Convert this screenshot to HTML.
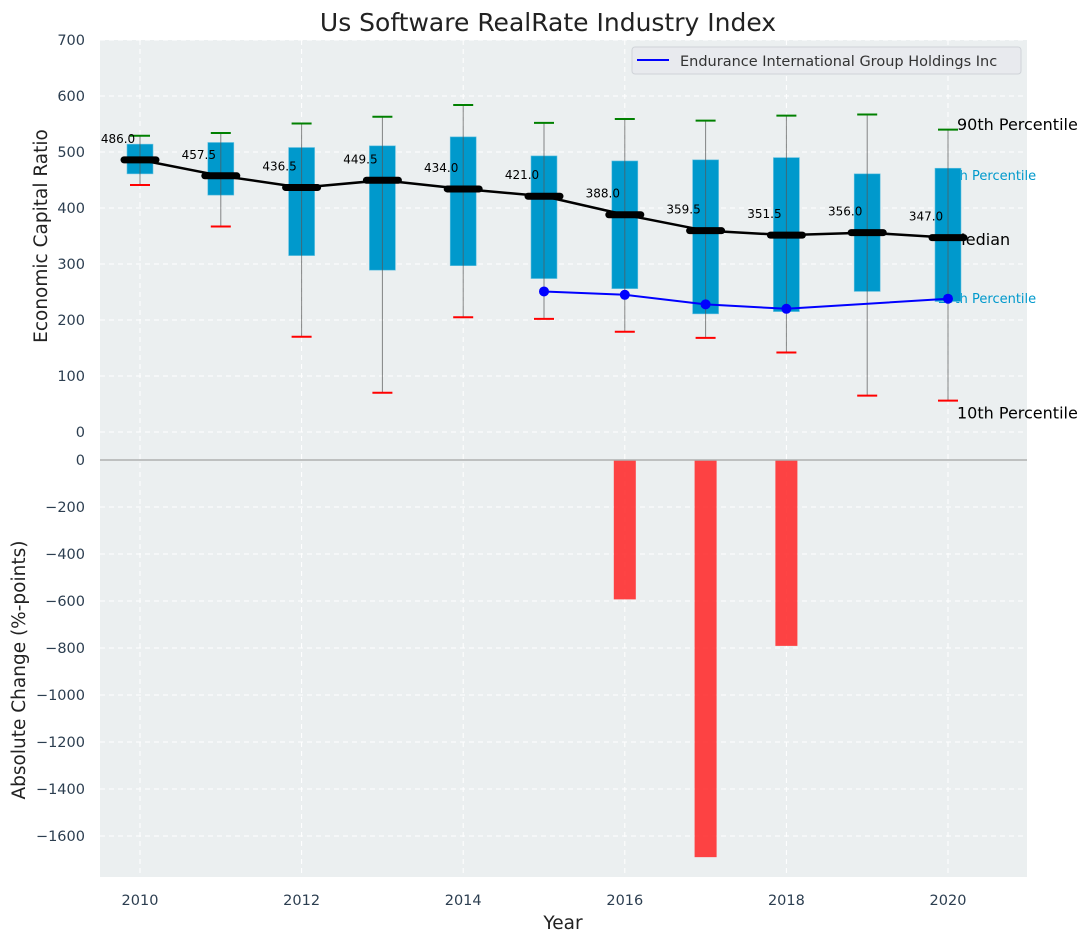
<!DOCTYPE html>
<html><head><meta charset="utf-8"><style>
body{margin:0;background:#fff;}
svg text{font-family:"DejaVu Sans","Liberation Sans",sans-serif;}
</style></head><body>
<svg id="chart" width="1092" height="942" xmlns="http://www.w3.org/2000/svg">
<text x="548" y="31" font-size="25" text-anchor="middle" fill="#222">Us Software RealRate Industry Index</text>
<rect x="100" y="40" width="927" height="420" fill="#ebeff0"/>
<rect x="100" y="448" width="927" height="429" fill="#ebeff0"/>
<g id="grid"></g>
<g id="marks"></g>
<g id="axes"></g>
<g>
<rect x="632" y="47" width="389" height="27" rx="3" fill="#e8eaee" stroke="#cfd3d8"/>
<line x1="637" y1="60" x2="669" y2="60" stroke="#0000ff" stroke-width="2"/>
<text x="680" y="66" font-size="14.5" fill="#333">Endurance International Group Holdings Inc</text>
</g>
<text transform="translate(47,236) rotate(-90)" font-size="18.5" text-anchor="middle" fill="#222">Economic Capital Ratio</text>
<text transform="translate(25,670) rotate(-90)" font-size="18.5" text-anchor="middle" fill="#222">Absolute Change (%-points)</text>
<text x="563" y="929" font-size="18.5" text-anchor="middle" fill="#222">Year</text>
</svg>
<script>
const years=[2010,2011,2012,2013,2014,2015,2016,2017,2018,2019,2020];
const p90=[529,534,551,563,584,552,559,556,565,567,540];
const p75=[514,517,508,511,527,493,484,486,490,461,471];
const medians=[486.0,457.5,436.5,449.5,434.0,421.0,388.0,359.5,351.5,356.0,347.0];
const p25=[461,423,315,289,297,274,256,211,215,251,233];
const p10=[441,367,170,70,205,202,179,168,142,65,56];
const compYears=[2015,2016,2017,2018,2020];
const compValues=[251,245,228,220,238];
const changeYears=[2016,2017,2018];
const changeValues=[-593,-1690,-791];
const topTicks=[0,100,200,300,400,500,600,700];
const botTicks=[0,-200,-400,-600,-800,-1000,-1200,-1400,-1600];
const xTicks=[2010,2012,2014,2016,2018,2020];

const NS="http://www.w3.org/2000/svg";
const xs=y=>140+(y-2010)*80.8;
const yt=v=>432-v*0.56;
const yb=v=>460-v*0.235;
function mk(parent,tag,attrs,txt){const e=document.createElementNS(NS,tag);for(const k in attrs)e.setAttribute(k,attrs[k]);if(txt!==undefined)e.textContent=txt;document.getElementById(parent).appendChild(e);return e;}
topTicks.forEach(t=>{const l=mk('grid','line',{x1:100,x2:1027,y1:yt(t),y2:yt(t),stroke:'#fff','stroke-dasharray':'5,4','stroke-width':1});


const tx=mk('axes','text',{x:85,y:yt(t)+5,'font-size':14.5,'text-anchor':'end',fill:'#2c3e50'},String(t));

});
botTicks.forEach(t=>{const l=mk('grid','line',{x1:100,x2:1027,y1:yb(t),y2:yb(t),stroke:'#fff','stroke-dasharray':'5,4','stroke-width':1});


const tx=mk('axes','text',{x:85,y:yb(t)+5,'font-size':14.5,'text-anchor':'end',fill:'#2c3e50'},String(t).replace('-','\u2212'));

});
xTicks.forEach(t=>{const l=mk('grid','line',{x1:xs(t),x2:xs(t),y1:40,y2:877,stroke:'#fff','stroke-dasharray':'5,4','stroke-width':1});


const tx=mk('axes','text',{x:xs(t),y:905,'font-size':14.5,'text-anchor':'middle',fill:'#2c3e50'},String(t));

});
const zl=mk('axes','line',{x1:100,x2:1027,y1:yb(0),y2:yb(0),stroke:'#b0b0b0','stroke-width':1.5});


// right labels
[['90th Percentile',p90[10]+10,'#000',16,957],['75th Percentile',p75[10]-13,'#0099cc',13,938],['Median',medians[10]-2,'#000',16,952],['25th Percentile',p25[10]+5,'#0099cc',13,938],['10th Percentile',p10[10]-21,'#000',16,957]].forEach(a=>{
const t=mk('marks','text',{x:a[4],y:yt(a[1])+a[3]/2-2,'font-size':a[3],fill:a[2]},a[0]);

});
changeYears.forEach((y,i)=>{const v=changeValues[i];const r=mk('marks','rect',{x:xs(y)-11,y:yb(0),width:22,height:yb(v)-yb(0),fill:'#ff2a2a','fill-opacity':0.88});

});
years.forEach((y,i)=>{const x=xs(y);
const b=mk('marks','rect',{x:x-13,y:yt(p75[i]),width:26,height:yt(p25[i])-yt(p75[i]),fill:'#0099cc',stroke:'#66c2e0','stroke-width':0.6});


const w=mk('marks','line',{x1:x,x2:x,y1:yt(p90[i]),y2:yt(p10[i]),stroke:'#555','stroke-opacity':0.7,'stroke-width':1});


const h=mk('marks','line',{x1:x-10,x2:x+10,y1:yt(p90[i]),y2:yt(p90[i]),stroke:'#008000','stroke-width':2});


const lo=mk('marks','line',{x1:x-10,x2:x+10,y1:yt(p10[i]),y2:yt(p10[i]),stroke:'#ff0000','stroke-width':2});

});
const cp=mk('marks','polyline',{points:compYears.map((y,i)=>xs(y)+','+yt(compValues[i])).join(' '),fill:'none',stroke:'#0000ff','stroke-width':2});


compYears.forEach((y,i)=>{const c=mk('marks','circle',{cx:xs(y),cy:yt(compValues[i]),r:5,fill:'#0000ff'});

});
const ml=mk('marks','polyline',{points:years.map((y,i)=>xs(y)+','+yt(medians[i])).join(' '),fill:'none',stroke:'#000','stroke-width':2.5});


years.forEach((y,i)=>{const x=xs(y);
const m=mk('marks','line',{x1:x-16,x2:x+16,y1:yt(medians[i]),y2:yt(medians[i]),stroke:'#000','stroke-width':7,'stroke-linecap':'round'});


const t=mk('marks','text',{x:x-22,y:yt(medians[i])-17,'font-size':12,'text-anchor':'middle',fill:'#000'},medians[i].toFixed(1));

});
</script>
</body></html>
